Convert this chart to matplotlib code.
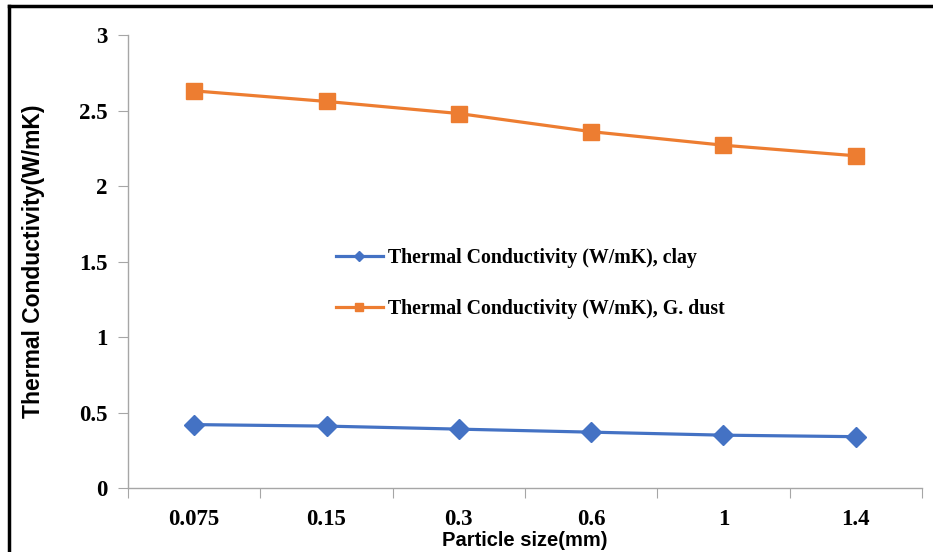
import matplotlib
matplotlib.use("Agg")
import matplotlib.pyplot as plt
from matplotlib.lines import Line2D
import numpy as np

sizes = ["0.075", "0.15", "0.3", "0.6", "1", "1.4"]
clay = [0.42, 0.41, 0.39, 0.37, 0.35, 0.34]
gdust = [2.63, 2.56, 2.48, 2.36, 2.27, 2.20]

fig = plt.figure(figsize=(9.33, 5.52), dpi=100)
ax = fig.add_axes([0.1372, 0.1159, 0.8510, 0.8207])

x = np.arange(len(sizes)) + 0.5
ax.plot(x, clay, color="#4472C4", lw=2.3, marker="D", ms=10,
        label="Thermal Conductivity (W/mK), clay")
ax.plot(x, gdust, color="#ED7D31", lw=2.3, marker="s", ms=11,
        label="Thermal Conductivity (W/mK), G. dust")

ax.set_xlim(0, len(sizes))
ax.set_ylim(0, 3)
ax.set_yticks(np.arange(0, 3.01, 0.5))
ax.set_yticklabels(["0", "0.5", "1", "1.5", "2", "2.5", "3"])
ax.set_xticks(np.arange(len(sizes) + 1))
ax.set_xticklabels([])
ax.set_xticks(x, minor=True)
ax.set_xticklabels(sizes, minor=True)

for s in ["top", "right"]:
    ax.spines[s].set_visible(False)
for s in ["left", "bottom"]:
    ax.spines[s].set_color("#A6A6A6")
    ax.spines[s].set_linewidth(1.0)

tfont = dict(family="Liberation Serif", weight="bold", size=16.5)
ax.tick_params(axis="y", which="major", length=7, color="#A6A6A6", pad=8)
ax.tick_params(axis="x", which="major", length=7, color="#A6A6A6")
ax.tick_params(axis="x", which="minor", length=0, pad=15)
for lab in ax.get_yticklabels() + ax.get_xticklabels(minor=True):
    lab.set_fontproperties(matplotlib.font_manager.FontProperties(**tfont))

ax.set_ylabel("Thermal Conductivity(W/mK)", family="Liberation Sans",
              weight="bold", size=16.5, labelpad=24)
ax.set_xlabel("Particle size(mm)", family="Liberation Sans",
              weight="bold", size=14.5, labelpad=1)

leg = ax.legend(loc="center left", bbox_to_anchor=(0.239, 0.452), frameon=False,
                prop=dict(family="Liberation Serif", weight="bold", size=14.3),
                handlelength=2.4, labelspacing=1.55, handletextpad=0.25,
                markerscale=0.5)

# figure frame (top and left edges)
fig.add_artist(Line2D([0.0097, 0.0097], [0, 0.989], color="black", lw=2.5,
                      transform=fig.transFigure))
fig.add_artist(Line2D([0.0097, 1.0], [0.989, 0.989], color="black", lw=2.5,
                      transform=fig.transFigure))

fig.savefig("out.png", dpi=100)
